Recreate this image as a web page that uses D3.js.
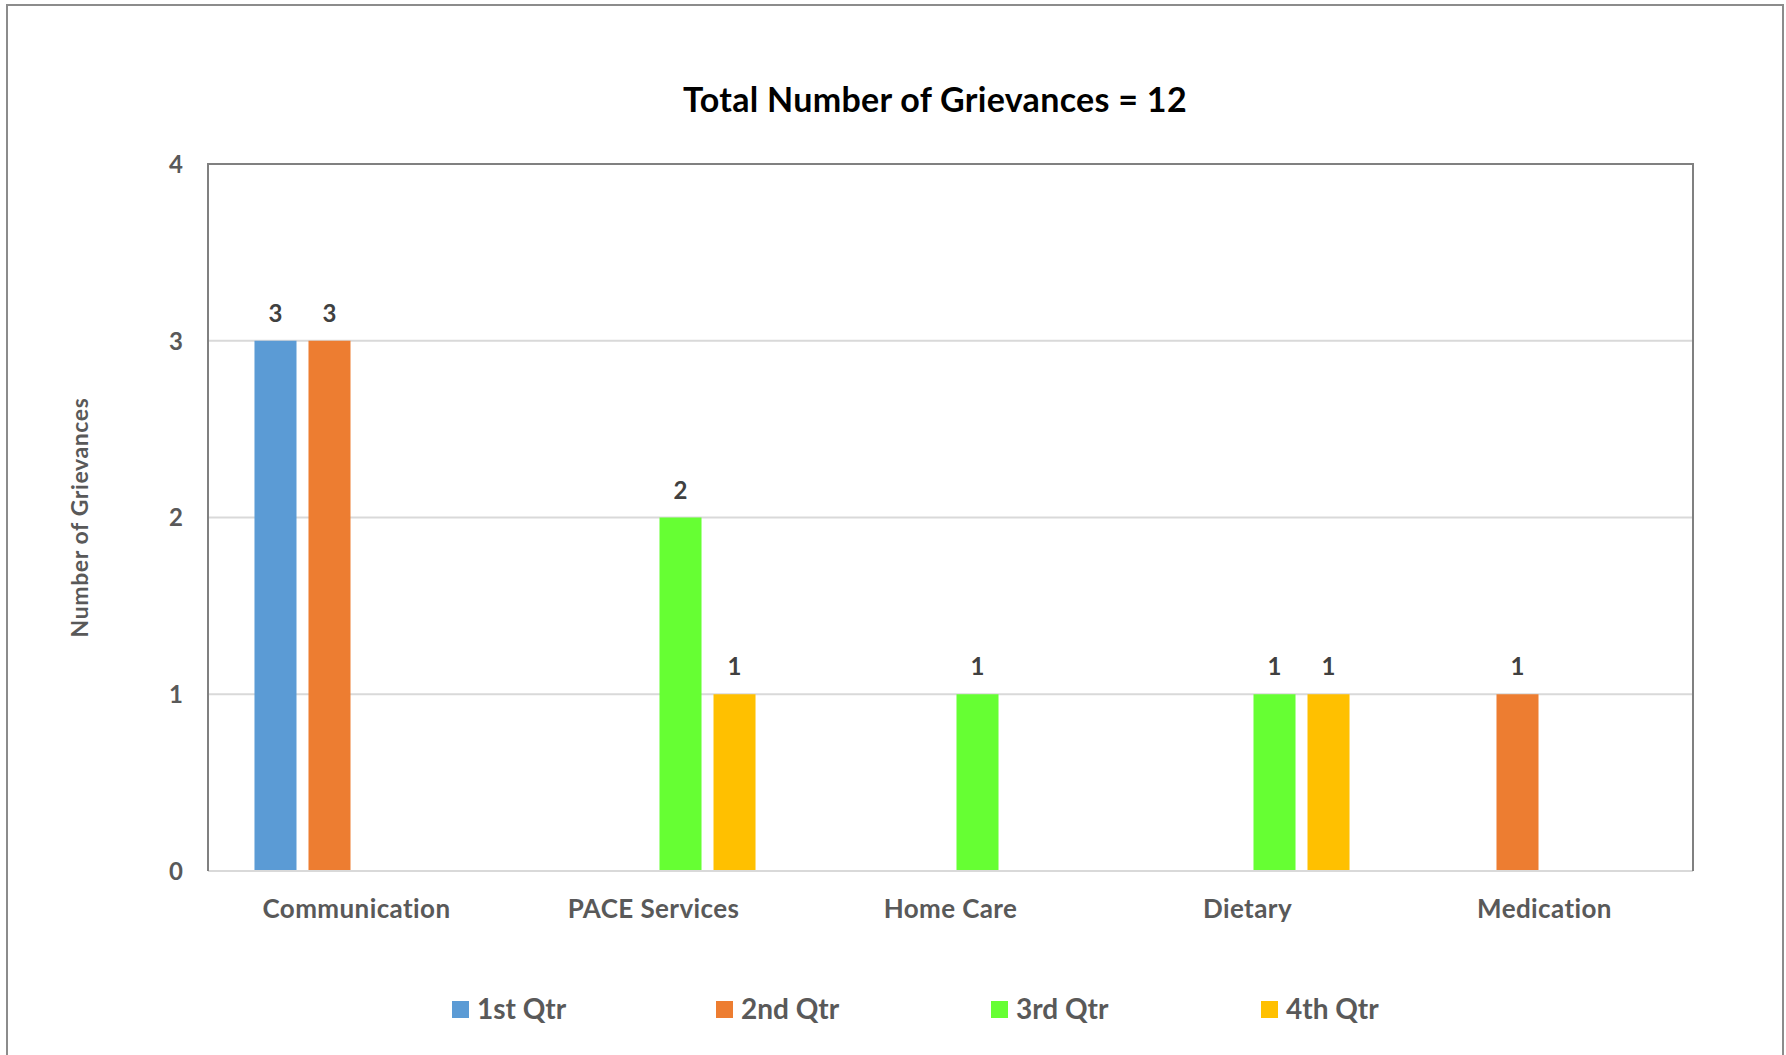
<!DOCTYPE html>
<html>
<head>
<meta charset="utf-8">
<script src="https://cdn.jsdelivr.net/npm/d3@7"></script>
<style>
  html, body { margin: 0; padding: 0; background: #fff; }
  svg { display: block; font-family: Lato, "Open Sans", sans-serif; }
</style>
</head>
<body>
<svg id="chart" width="1786" height="1055"></svg>
<script>
// Grievance categories and counts per quarter (null = no grievances)
const categories = ["Communication", "PACE Services", "Home Care", "Dietary", "Medication"];
const quarters = ["1st Qtr", "2nd Qtr", "3rd Qtr", "4th Qtr"];
const q1Values = [3, null, null, null, null];
const q2Values = [3, null, null, null, 1];
const q3Values = [null, 2, 1, 1, null];
const q4Values = [null, 1, null, 1, null];
const quarterColors = ["#5B9BD5", "#ED7D31", "#66FF33", "#FFC000"];
const yTicks = [0, 1, 2, 3, 4];
const titleText = "Total Number of Grievances = 12";
const yAxisTitle = "Number of Grievances";

const seriesValues = [q1Values, q2Values, q3Values, q4Values];

const svg = d3.select("#chart");

// Outer chart frame
svg.append("rect")
  .attr("x", 7).attr("y", 5)
  .attr("width", 1776).attr("height", 1060)
  .attr("fill", "#fff").attr("stroke", "#8c8c8c").attr("stroke-width", 2);

const plot = { left: 208, top: 164, right: 1693, bottom: 871 };

const x0 = d3.scaleBand()
  .domain(categories)
  .range([plot.left, plot.right])
  .paddingInner(0.313)
  .paddingOuter(0.1565);

const x1 = d3.scaleBand()
  .domain(quarters)
  .range([0, x0.bandwidth()])
  .paddingInner(0.222);

const y = d3.scaleLinear()
  .domain([0, 4])
  .range([plot.bottom, plot.top]);

const color = d3.scaleOrdinal().domain(quarters).range(quarterColors);

// Gridlines
svg.append("g")
  .selectAll("line")
  .data(yTicks.filter(t => t > 0 && t < 4))
  .join("line")
  .attr("x1", plot.left).attr("x2", plot.right)
  .attr("y1", d => y(d)).attr("y2", d => y(d))
  .attr("stroke", "#d9d9d9").attr("stroke-width", 2);

// Bars with value labels
const groups = svg.append("g")
  .selectAll("g")
  .data(categories)
  .join("g")
  .attr("transform", c => `translate(${x0(c)},0)`);

const barData = ci => quarters.map((q, qi) => ({ q, v: seriesValues[qi][ci] }))
  .filter(d => d.v !== null && d.v > 0);

groups.each(function(c, ci) {
  const g = d3.select(this);
  const data = barData(ci);
  g.selectAll("rect")
    .data(data)
    .join("rect")
    .attr("x", d => x1(d.q))
    .attr("width", x1.bandwidth())
    .attr("y", d => y(d.v))
    .attr("height", d => y(0) - y(d.v))
    .attr("fill", d => color(d.q));
  g.selectAll("text")
    .data(data)
    .join("text")
    .attr("x", d => x1(d.q) + x1.bandwidth() / 2)
    .attr("y", d => y(d.v) - 19)
    .attr("text-anchor", "middle")
    .attr("font-size", 24)
    .attr("font-weight", 700)
    .attr("fill", "#404040")
    .text(d => d.v);
});

// Bottom axis line
svg.append("line")
  .attr("x1", plot.left).attr("x2", plot.right)
  .attr("y1", plot.bottom).attr("y2", plot.bottom)
  .attr("stroke", "#d9d9d9").attr("stroke-width", 2);

// Plot area border (top, left, right)
svg.append("path")
  .attr("d", `M${plot.left},${plot.bottom}V${plot.top}H${plot.right}V${plot.bottom}`)
  .attr("fill", "none").attr("stroke", "#808080").attr("stroke-width", 2);

// Y axis labels
const yAxis = d3.axisLeft(y).tickValues(yTicks).tickSize(0).tickPadding(0).tickFormat(d3.format("d"));
const yg = svg.append("g").attr("transform", `translate(183,0)`).call(yAxis);
yg.select(".domain").remove();
yg.selectAll("text")
  .attr("font-family", "Lato, sans-serif")
  .attr("font-size", 24).attr("font-weight", 700).attr("fill", "#595959")
  .attr("dy", "0.35em");

// X axis labels
const xAxis = d3.axisBottom(x0).tickSize(0).tickPadding(0);
const xg = svg.append("g").attr("transform", `translate(0,${plot.bottom + 38})`).call(xAxis);
xg.select(".domain").remove();
xg.selectAll("text")
  .attr("font-family", "Lato, sans-serif")
  .attr("font-size", 26).attr("font-weight", 700).attr("fill", "#595959")
  .attr("letter-spacing", 0.4)
  .attr("dy", "0.35em");
xg.selectAll(".tick").attr("transform", c => `translate(${x0(c) + x0.bandwidth() / 2},0)`);

// Title
svg.append("text")
  .attr("x", 935).attr("y", 100)
  .attr("text-anchor", "middle").attr("dy", "0.35em")
  .attr("font-size", 34).attr("font-weight", 700).attr("fill", "#000")
  .attr("letter-spacing", 0.3)
  .text(titleText);

// Y axis title
svg.append("text")
  .attr("transform", `translate(80,${(plot.top + plot.bottom) / 2}) rotate(-90)`)
  .attr("text-anchor", "middle").attr("dy", "0.35em")
  .attr("font-size", 23).attr("font-weight", 700).attr("fill", "#595959")
  .attr("letter-spacing", 0.6)
  .text(yAxisTitle);

// Legend
const legendX = [452, 716, 991, 1261];
const legend = svg.append("g")
  .selectAll("g")
  .data(quarters)
  .join("g")
  .attr("transform", (q, i) => `translate(${legendX[i]},1009)`);
legend.append("rect")
  .attr("x", 0).attr("y", -8).attr("width", 17).attr("height", 17)
  .attr("fill", q => color(q));
legend.append("text")
  .attr("x", 25).attr("y", 0).attr("dy", "0.35em")
  .attr("font-size", 28).attr("font-weight", 700).attr("fill", "#595959")
  .text(q => q);
</script>
</body>
</html>
